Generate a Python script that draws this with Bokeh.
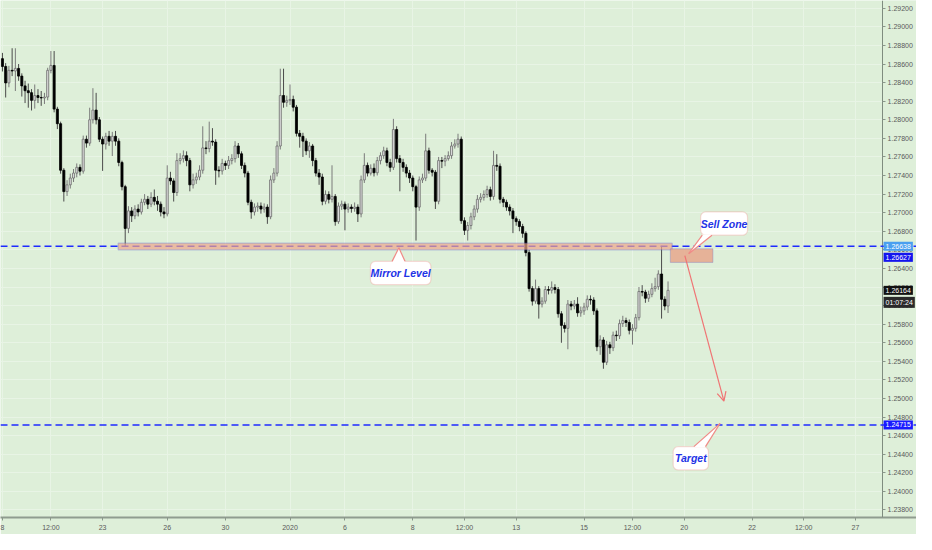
from bokeh.plotting import figure
from bokeh.models import (Range1d, Span, BoxAnnotation, PolyAnnotation, Arrow, OpenHead,
                          Label, FixedTicker, SingleIntervalTicker, PrintfTickFormatter)
from bokeh.embed import file_html
from bokeh.resources import INLINE

# hourly-ish candles (open = previous close)
first_open = 1.28658
candle_close = [
    1.28574, 1.28397, 1.28532, 1.28525, 1.28553, 1.28470, 1.28365, 1.28313, 1.28292, 1.28209,
    1.28261, 1.28240, 1.28235, 1.28245, 1.28532, 1.28585, 1.28115, 1.27958, 1.27457, 1.27227,
    1.27300, 1.27373, 1.27426, 1.27488, 1.27447, 1.27791, 1.27749, 1.28000, 1.28104, 1.28000,
    1.27791, 1.27739, 1.27822, 1.27770, 1.27822, 1.27770, 1.27541, 1.27280, 1.26831, 1.27019,
    1.26966, 1.27039, 1.27008, 1.27112, 1.27144, 1.27092, 1.27165, 1.27123, 1.27092, 1.27008,
    1.26987, 1.27373, 1.27342, 1.27217, 1.27561, 1.27582, 1.27614, 1.27561, 1.27300, 1.27353,
    1.27384, 1.27457, 1.27697, 1.27690, 1.27770, 1.27760, 1.27457, 1.27450, 1.27530, 1.27509,
    1.27561, 1.27582, 1.27718, 1.27634, 1.27509, 1.27426, 1.27112, 1.27008, 1.27060, 1.27071,
    1.27039, 1.27060, 1.26956, 1.27353, 1.27426, 1.27718, 1.28261, 1.28188, 1.28209, 1.28219,
    1.28136, 1.27854, 1.27822, 1.27770, 1.27666, 1.27718, 1.27561, 1.27426, 1.27384, 1.27123,
    1.27196, 1.27144, 1.27175, 1.26904, 1.27071, 1.27092, 1.27039, 1.27060, 1.27045, 1.27060,
    1.26987, 1.27353, 1.27509, 1.27426, 1.27478, 1.27430, 1.27561, 1.27614, 1.27666, 1.27541,
    1.27488, 1.27895, 1.27582, 1.27541, 1.27488, 1.27426, 1.27373, 1.27280, 1.27060, 1.27353,
    1.27373, 1.27666, 1.27457, 1.27436, 1.27123, 1.27561, 1.27555, 1.27582, 1.27614, 1.27718,
    1.27739, 1.27791, 1.26914, 1.26810, 1.26862, 1.26956, 1.27039, 1.27144, 1.27165, 1.27196,
    1.27248, 1.27175, 1.27509, 1.27500, 1.27144, 1.27112, 1.27060, 1.27019, 1.26935, 1.26904,
    1.26851, 1.26778, 1.26570, 1.26183, 1.26048, 1.26183, 1.26016, 1.26048, 1.26173, 1.26165,
    1.26194, 1.26173, 1.25912, 1.25787, 1.25755, 1.26016, 1.25995, 1.26016, 1.25922, 1.25943,
    1.25985, 1.26068, 1.26060, 1.25943, 1.25557, 1.25630, 1.25390, 1.25578, 1.25546, 1.25682,
    1.25675, 1.25807, 1.25839, 1.25818, 1.25734, 1.25755, 1.25870, 1.26152, 1.26145, 1.26079,
    1.26121, 1.26183, 1.26204, 1.26340, 1.26068, 1.25995, 1.26164,
]
candle_high = [
    1.28720, 1.28610, 1.28580, 1.28770, 1.28770, 1.28600, 1.28500, 1.28420, 1.28390, 1.28330,
    1.28380, 1.28330, 1.28310, 1.28290, 1.28560, 1.28740, 1.28740, 1.28140, 1.27980, 1.27480,
    1.27350, 1.27420, 1.27470, 1.27530, 1.27520, 1.27830, 1.27830, 1.28130, 1.28340, 1.28290,
    1.28030, 1.27820, 1.27860, 1.27880, 1.27870, 1.27880, 1.27800, 1.27560, 1.27300, 1.27070,
    1.27060, 1.27080, 1.27090, 1.27150, 1.27200, 1.27180, 1.27220, 1.27250, 1.27180, 1.27120,
    1.27060, 1.27510, 1.27440, 1.27370, 1.27640, 1.27640, 1.27670, 1.27660, 1.27590, 1.27420,
    1.27430, 1.27510, 1.27930, 1.27770, 1.27980, 1.27910, 1.27790, 1.27500, 1.27580, 1.27560,
    1.27610, 1.27630, 1.27770, 1.27750, 1.27660, 1.27540, 1.27450, 1.27140, 1.27100, 1.27110,
    1.27110, 1.27100, 1.27090, 1.27400, 1.27480, 1.27770, 1.28550, 1.28550, 1.28260, 1.28380,
    1.28260, 1.28160, 1.27890, 1.27860, 1.27800, 1.27760, 1.27740, 1.27590, 1.27470, 1.27420,
    1.27240, 1.27230, 1.27510, 1.27200, 1.27110, 1.27130, 1.27120, 1.27100, 1.27090, 1.27110,
    1.27090, 1.27400, 1.27640, 1.27540, 1.27520, 1.27530, 1.27600, 1.27650, 1.27710, 1.27700,
    1.27580, 1.28010, 1.27930, 1.27620, 1.27580, 1.27520, 1.27460, 1.27400, 1.27300, 1.27390,
    1.27420, 1.27850, 1.27700, 1.27480, 1.27460, 1.27600, 1.27600, 1.27620, 1.27660, 1.27760,
    1.27790, 1.27850, 1.27820, 1.26950, 1.26900, 1.27000, 1.27080, 1.27190, 1.27210, 1.27240,
    1.27290, 1.27280, 1.27666, 1.27630, 1.27530, 1.27170, 1.27140, 1.27090, 1.27050, 1.26960,
    1.26930, 1.26880, 1.26800, 1.26600, 1.26210, 1.26280, 1.26210, 1.26090, 1.26210, 1.26210,
    1.26260, 1.26230, 1.26200, 1.25940, 1.25820, 1.26060, 1.26050, 1.26060, 1.26090, 1.25990,
    1.26030, 1.26110, 1.26110, 1.26090, 1.25970, 1.25680, 1.25660, 1.25620, 1.25610, 1.25720,
    1.25730, 1.25850, 1.25890, 1.25870, 1.25850, 1.25800, 1.25910, 1.26200, 1.26220, 1.26170,
    1.26160, 1.26240, 1.26300, 1.26380, 1.26643, 1.26100, 1.26260,
]
candle_low = [
    1.28520, 1.28240, 1.28350, 1.28470, 1.28310, 1.28420, 1.28250, 1.28180, 1.28130, 1.28100,
    1.28120, 1.28180, 1.28150, 1.28170, 1.28210, 1.28500, 1.28080, 1.27900, 1.27420, 1.27120,
    1.27180, 1.27260, 1.27330, 1.27380, 1.27400, 1.27420, 1.27700, 1.27720, 1.27960, 1.27950,
    1.27760, 1.27450, 1.27680, 1.27720, 1.27610, 1.27720, 1.27500, 1.27240, 1.26640, 1.26780,
    1.26900, 1.26930, 1.26960, 1.26980, 1.27080, 1.27040, 1.27060, 1.27080, 1.27020, 1.26960,
    1.26940, 1.26960, 1.27300, 1.27120, 1.27180, 1.27520, 1.27540, 1.27500, 1.27230, 1.27260,
    1.27310, 1.27350, 1.27420, 1.27630, 1.27650, 1.27720, 1.27300, 1.27380, 1.27410, 1.27460,
    1.27470, 1.27520, 1.27540, 1.27590, 1.27470, 1.27380, 1.27080, 1.26935, 1.26970, 1.27010,
    1.26990, 1.27000, 1.26880, 1.26930, 1.27320, 1.27390, 1.27680, 1.28130, 1.28140, 1.28160,
    1.28090, 1.27820, 1.27700, 1.27600, 1.27620, 1.27590, 1.27500, 1.27390, 1.27300, 1.27080,
    1.27090, 1.27100, 1.27110, 1.26860, 1.26880, 1.27030, 1.26810, 1.27000, 1.27000, 1.27010,
    1.26900, 1.26950, 1.27320, 1.27390, 1.27400, 1.27390, 1.27400, 1.27520, 1.27580, 1.27500,
    1.27440, 1.27460, 1.27540, 1.27230, 1.27440, 1.27380, 1.27320, 1.27230, 1.26700, 1.27020,
    1.27320, 1.27340, 1.27420, 1.27390, 1.27040, 1.27090, 1.27480, 1.27500, 1.27560, 1.27580,
    1.27690, 1.27700, 1.26880, 1.26760, 1.26700, 1.26820, 1.26920, 1.27000, 1.27110, 1.27130,
    1.27160, 1.27130, 1.27140, 1.27450, 1.27100, 1.27060, 1.27020, 1.26970, 1.26780, 1.26860,
    1.26800, 1.26730, 1.26530, 1.26150, 1.26000, 1.26020, 1.25860, 1.25980, 1.26020, 1.26120,
    1.26130, 1.26130, 1.25870, 1.25600, 1.25710, 1.25530, 1.25950, 1.25960, 1.25880, 1.25880,
    1.25900, 1.25950, 1.26010, 1.25900, 1.25510, 1.25470, 1.25320, 1.25360, 1.25480, 1.25510,
    1.25620, 1.25640, 1.25770, 1.25770, 1.25690, 1.25580, 1.25720, 1.25840, 1.26100, 1.26030,
    1.26040, 1.26090, 1.26150, 1.26170, 1.25860, 1.25950, 1.25920,
]

# time axis: candle index of each label
date_ticks = [0, 15, 31, 51, 69, 89, 106, 127, 143, 159, 180, 195, 211, 232, 248, 264]
date_labels = ["8", "12:00", "23", "26", "30", "2020", "6", "8", "12:00", "13", "15",
               "12:00", "20", "22", "12:00", "27"]

mirror_level = 1.26638
second_level = 1.26627
target_level = 1.24715
last_price = 1.26164
countdown = "01:07:24"

# drawn zones (candle index / price)
mirror_zone = dict(left=35.8, right=207.3, top=1.26672, bottom=1.26600)
sell_zone = dict(left=206.7, right=219.9, top=1.26611, bottom=1.26465)
arrow_from = (211.2, 1.26538)
arrow_to = (223.3, 1.24972)

bg = "#deefd9"
grid = "#e8f4e5"
pink = "#f08a86"
note_blue = "#2233e6"
font = "Liberation Sans"

# the price scale sits inside the frame, TradingView style
scale_at = 272.4
x0, x1 = -0.6, 282.9
y0, y1 = 1.23719, 1.29284
p = figure(width=916, height=534, x_range=Range1d(x0, x1), y_range=Range1d(y0, y1),
           y_axis_location="right", output_backend="svg", toolbar_location=None,
           background_fill_color=bg, border_fill_color=bg,
           min_border_left=0, min_border_top=0, min_border_right=0, min_border_bottom=17)
p.outline_line_color = None

xa = p.xaxis[0]
xa.ticker = FixedTicker(ticks=date_ticks)
xa.major_label_overrides = dict(zip(date_ticks, date_labels))
ya = p.yaxis[0]
ya.fixed_location = scale_at
ya.ticker = SingleIntervalTicker(interval=0.002, num_minor_ticks=0)
ya.formatter = PrintfTickFormatter(format="%.5f")
for ax in (xa, ya):
    ax.major_label_text_font = font
    ax.major_label_text_font_size = "7px"
    ax.major_label_text_color = "#5a5a5a"
    ax.major_tick_in = 0
    ax.major_tick_out = 3
    ax.minor_tick_line_color = None
    ax.major_tick_line_color = "#8a978a"
    ax.major_label_standoff = 3
ya.major_label_standoff = 2
xa.axis_line_color = "#8f9c8f"
xa.axis_line_width = 2
ya.axis_line_color = "#7f8c7f"
p.grid.grid_line_color = grid
p.grid.grid_line_width = 1

# keep grid lines out of the price scale strip
p.quad(left=scale_at, right=x1, bottom=y0, top=y1, fill_color=bg, line_color=None)

# candles
opens = [first_open] + candle_close[:-1]
idx = list(range(len(candle_close)))
up = [c >= o for o, c in zip(opens, candle_close)]
for is_up, body_fill, body_line, wick in ((True, "#d9d9d9", "#6e6e6e", "#7a7a7a"),
                                          (False, "#000000", "#000000", "#4a4a4a")):
    sel = [i for i in idx if up[i] == is_up]
    p.segment(x0=sel, x1=sel, y0=[candle_low[i] for i in sel], y1=[candle_high[i] for i in sel],
              line_color=wick, line_width=1)
    p.vbar(x=sel, width=0.64,
           top=[max(opens[i], candle_close[i]) for i in sel],
           bottom=[min(opens[i], candle_close[i]) for i in sel],
           fill_color=body_fill, line_color=body_line, line_width=0.8)

# levels
for lvl in (mirror_level, target_level):
    p.add_layout(Span(location=lvl, dimension="width", line_color="#1f2bff",
                      line_dash="7 4", line_width=1.6))

p.add_layout(BoxAnnotation(**mirror_zone, fill_color="#eea58a", fill_alpha=0.7,
                           line_color="#4c5ad6", line_width=1.2))
p.add_layout(BoxAnnotation(**sell_zone, fill_color="#e7a78c", fill_alpha=0.85,
                           line_color="#5a68d2", line_width=1))

p.add_layout(Arrow(end=OpenHead(size=9, line_color="#f07474", line_width=1.2),
                   x_start=arrow_from[0], y_start=arrow_from[1],
                   x_end=arrow_to[0], y_end=arrow_to[1],
                   line_color="#f07474", line_width=1.2))


def callout(left, right, bottom, top, tip, base_x, text, from_top):
    p.add_layout(BoxAnnotation(left=left, right=right, bottom=bottom, top=top,
                               fill_color="white", fill_alpha=1, line_color=pink,
                               line_width=1.2, border_radius=5))
    edge = top if from_top else bottom
    inner = edge - 0.00006 if from_top else edge + 0.00006
    b0, b1 = base_x
    p.add_layout(PolyAnnotation(xs=[b0, tip[0], b1, b1, b0], ys=[edge, tip[1], edge, inner, inner],
                                fill_color="white", fill_alpha=1, line_alpha=0))
    for bx in (b0, b1):
        p.add_layout(Arrow(end=None, x_start=bx, y_start=edge, x_end=tip[0], y_end=tip[1],
                           line_color=pink, line_width=1.2))
    p.add_layout(Label(x=(left + right) / 2, y=(bottom + top) / 2, text=text,
                       text_align="center", text_baseline="middle", text_font=font,
                       text_font_size="10.5px", text_font_style="bold italic",
                       text_color=note_blue))


callout(113.9, 132.6, 1.26225, 1.26476, (122.7, 1.26622), (120.6, 124.6), "Mirror Level", True)
callout(216.1, 230.6, 1.26758, 1.27008, (212.4, 1.26559), (216.6, 219.6), "Sell Zone", False)
callout(207.6, 218.5, 1.24231, 1.24482, (222.1, 1.24732), (214.0, 217.6), "Target", True)

# price tags on the scale
tags = [(mirror_level, 0, "1.26638", "#4a9ff0"),
        (second_level, -10, "1.26627", "#1414ee"),
        (last_price, 0, "1.26164", "#111111"),
        (last_price, -12, countdown, "#2a2a2a"),
        (target_level, 0, "1.24715", "#1a1aff")]
for price, dy, text, color in tags:
    p.add_layout(Label(x=scale_at, y=price, x_offset=1, y_offset=dy, text=text,
                       text_align="left", text_baseline="middle", text_font=font,
                       text_font_size="7px", text_color="white",
                       background_fill_color=color, background_fill_alpha=1, padding=2))

open("out.html", "w").write(file_html(p, INLINE))
